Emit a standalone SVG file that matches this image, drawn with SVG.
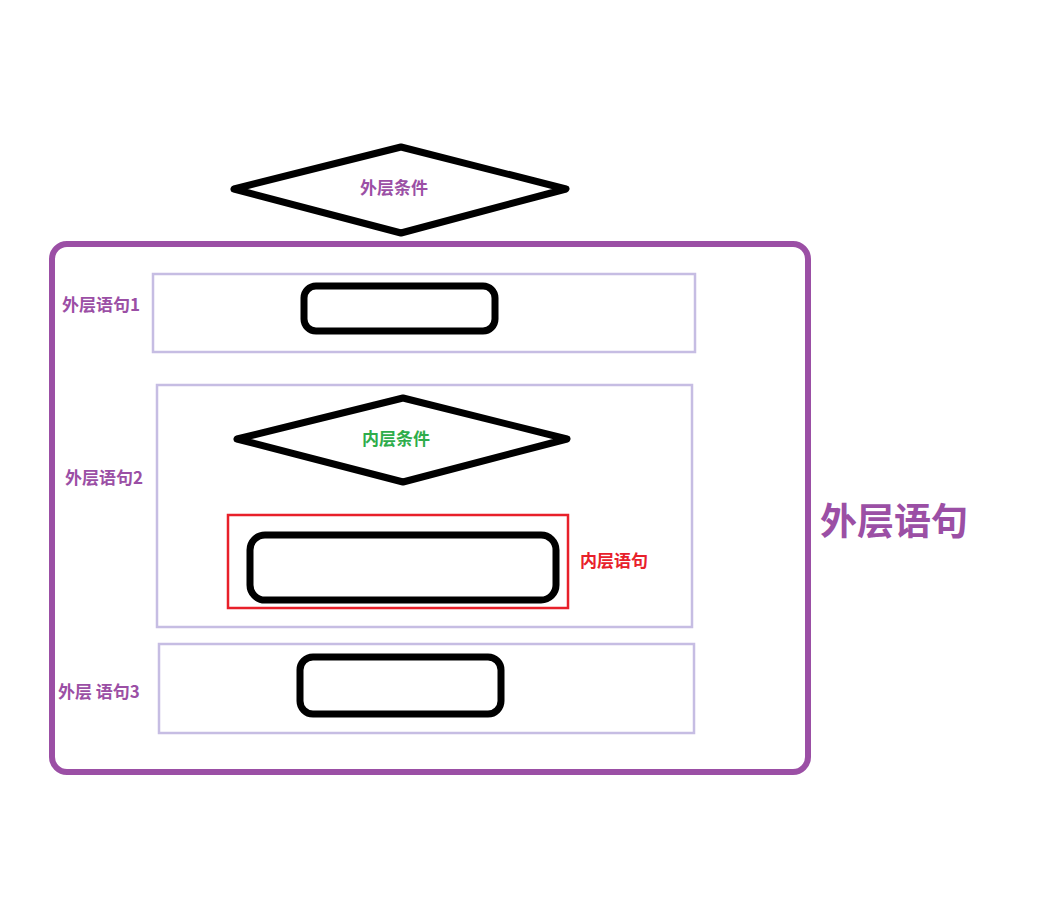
<svg xmlns="http://www.w3.org/2000/svg" width="1044" height="904" viewBox="0 0 1044 904">
<style>
.blk{fill:#fff;stroke:#000;stroke-width:7;stroke-linejoin:round}
.lt{fill:none;stroke:#c6bde3;stroke-width:2.5}
text{font-family:"Noto Sans CJK SC","Noto Sans",sans-serif;font-weight:bold;font-size:17px}
.p{fill:#9b4fa5}
</style>
<rect width="1044" height="904" fill="#fff"/>
<g id="outer"><rect x="52" y="244" width="756" height="528" rx="15" fill="none" stroke="#9b4fa5" stroke-width="6"/>
<text class="p" x="820" y="535" style="font-size:37px">外层语句</text></g>
<g id="cond1"><polygon class="blk" points="234,189 401,147 566,189 401,233"/>
<text class="p" x="394" y="194" text-anchor="middle">外层条件</text></g>
<g id="s1"><rect class="lt" x="153" y="274" width="542" height="78"/>
<rect class="blk" x="304" y="286" width="191" height="45" rx="12"/>
<text class="p" x="62" y="311">外层语句1</text></g>
<g id="s2"><rect class="lt" x="157" y="385" width="535" height="242"/>
<polygon class="blk" points="237,439 403,398 567,439 403,482"/>
<text x="396" y="445" text-anchor="middle" fill="#2ead4b">内层条件</text>
<text class="p" x="65" y="484">外层语句2</text></g>
<g id="inner"><rect x="228" y="515" width="340" height="93" fill="none" stroke="#e8202a" stroke-width="2.5"/>
<rect class="blk" x="250" y="535" width="306" height="65" rx="15"/>
<text x="580" y="567" fill="#e8202a">内层语句</text></g>
<g id="s3"><rect class="lt" x="159" y="644" width="535" height="89"/>
<rect class="blk" x="300" y="657" width="201" height="57" rx="13"/>
<text class="p" x="58" y="698" xml:space="preserve">外层 语句3</text></g>
<g id="connectors"></g>
</svg>
